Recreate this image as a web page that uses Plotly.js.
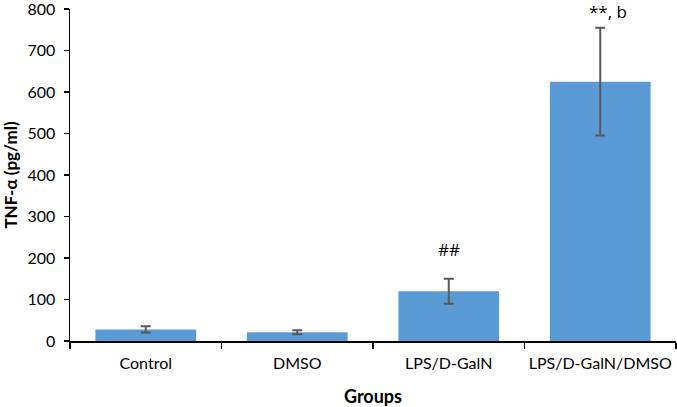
<!DOCTYPE html>
<html>
<head>
<meta charset="utf-8">
<script src="https://cdn.plot.ly/plotly-3.0.1.min.js"></script>
<style>html,body{margin:0;padding:0;background:#fff;}#chart{width:677px;height:407px;}</style>
</head>
<body>
<div id="chart"></div>
<script>
const categories = ["Control", "DMSO", "LPS/D-GalN", "LPS/D-GalN/DMSO"];
const meanValues = [28, 21, 120, 625];
const errorValues = [7.5, 5, 30, 130];
const annotationLabels = ["", "", "##", "**, b"];
const annotationY = [0, 0, 220, 800];
const yTicks = [0, 100, 200, 300, 400, 500, 600, 700, 800];

const FONT = "Lato, 'Open Sans', sans-serif";
const ANN_FONT = "'Open Sans', Lato, sans-serif";

const trace = {
  type: "bar",
  x: categories,
  y: meanValues,
  marker: {color: "#5B9BD5"},
  width: 0.665,
  error_y: {type: "data", array: errorValues, visible: true, color: "#595959", thickness: 2, width: 5},
  hoverinfo: "none"
};

const annotations = [];
categories.forEach((c, i) => {
  if (annotationLabels[i]) {
    annotations.push({
      x: c, y: annotationY[i], xref: "x", yref: "y",
      text: annotationLabels[i], showarrow: false,
      xanchor: "center", yanchor: "middle",
      xshift: i === 3 ? 8 : 0,
      yshift: i === 3 ? -2 : 0,
      font: {family: ANN_FONT, size: 17, color: "#000"}
    });
  }
});

const layout = {
  width: 677, height: 407,
  margin: {l: 70, r: 1, t: 9, b: 66},
  paper_bgcolor: "#fff", plot_bgcolor: "#fff",
  showlegend: false,
  font: {family: FONT, color: "#000"},
  xaxis: {
    type: "category",
    showline: true, linecolor: "#000", linewidth: 2,
    ticks: "outside", tickson: "boundaries", ticklen: 6, tickwidth: 1.5, tickcolor: "#000",
    tickangle: 0, ticklabelstandoff: 7,
    tickfont: {family: FONT, size: 16, color: "#000"},
    showgrid: false, zeroline: false,
    title: {text: "<b>Groups</b>", font: {family: FONT, size: 18, color: "#000"}, standoff: 19}
  },
  yaxis: {
    range: [0, 800.05],
    tickvals: yTicks, ticktext: yTicks.map(String),
    ticklabeloverflow: "allow", ticklabelstandoff: 5,
    showline: true, linecolor: "#000", linewidth: 1.5,
    ticks: "outside", ticklen: 5, tickwidth: 1.5, tickcolor: "#000",
    tickfont: {family: FONT, size: 16, color: "#000"},
    showgrid: false, zeroline: false,
    title: {text: "<b>TNF-α (pg/ml)</b>", font: {family: FONT, size: 17, color: "#000"}, standoff: 10}
  },
  annotations: annotations
};

Plotly.newPlot("chart", [trace], layout, {displayModeBar: false, staticPlot: true});
</script>
</body>
</html>
